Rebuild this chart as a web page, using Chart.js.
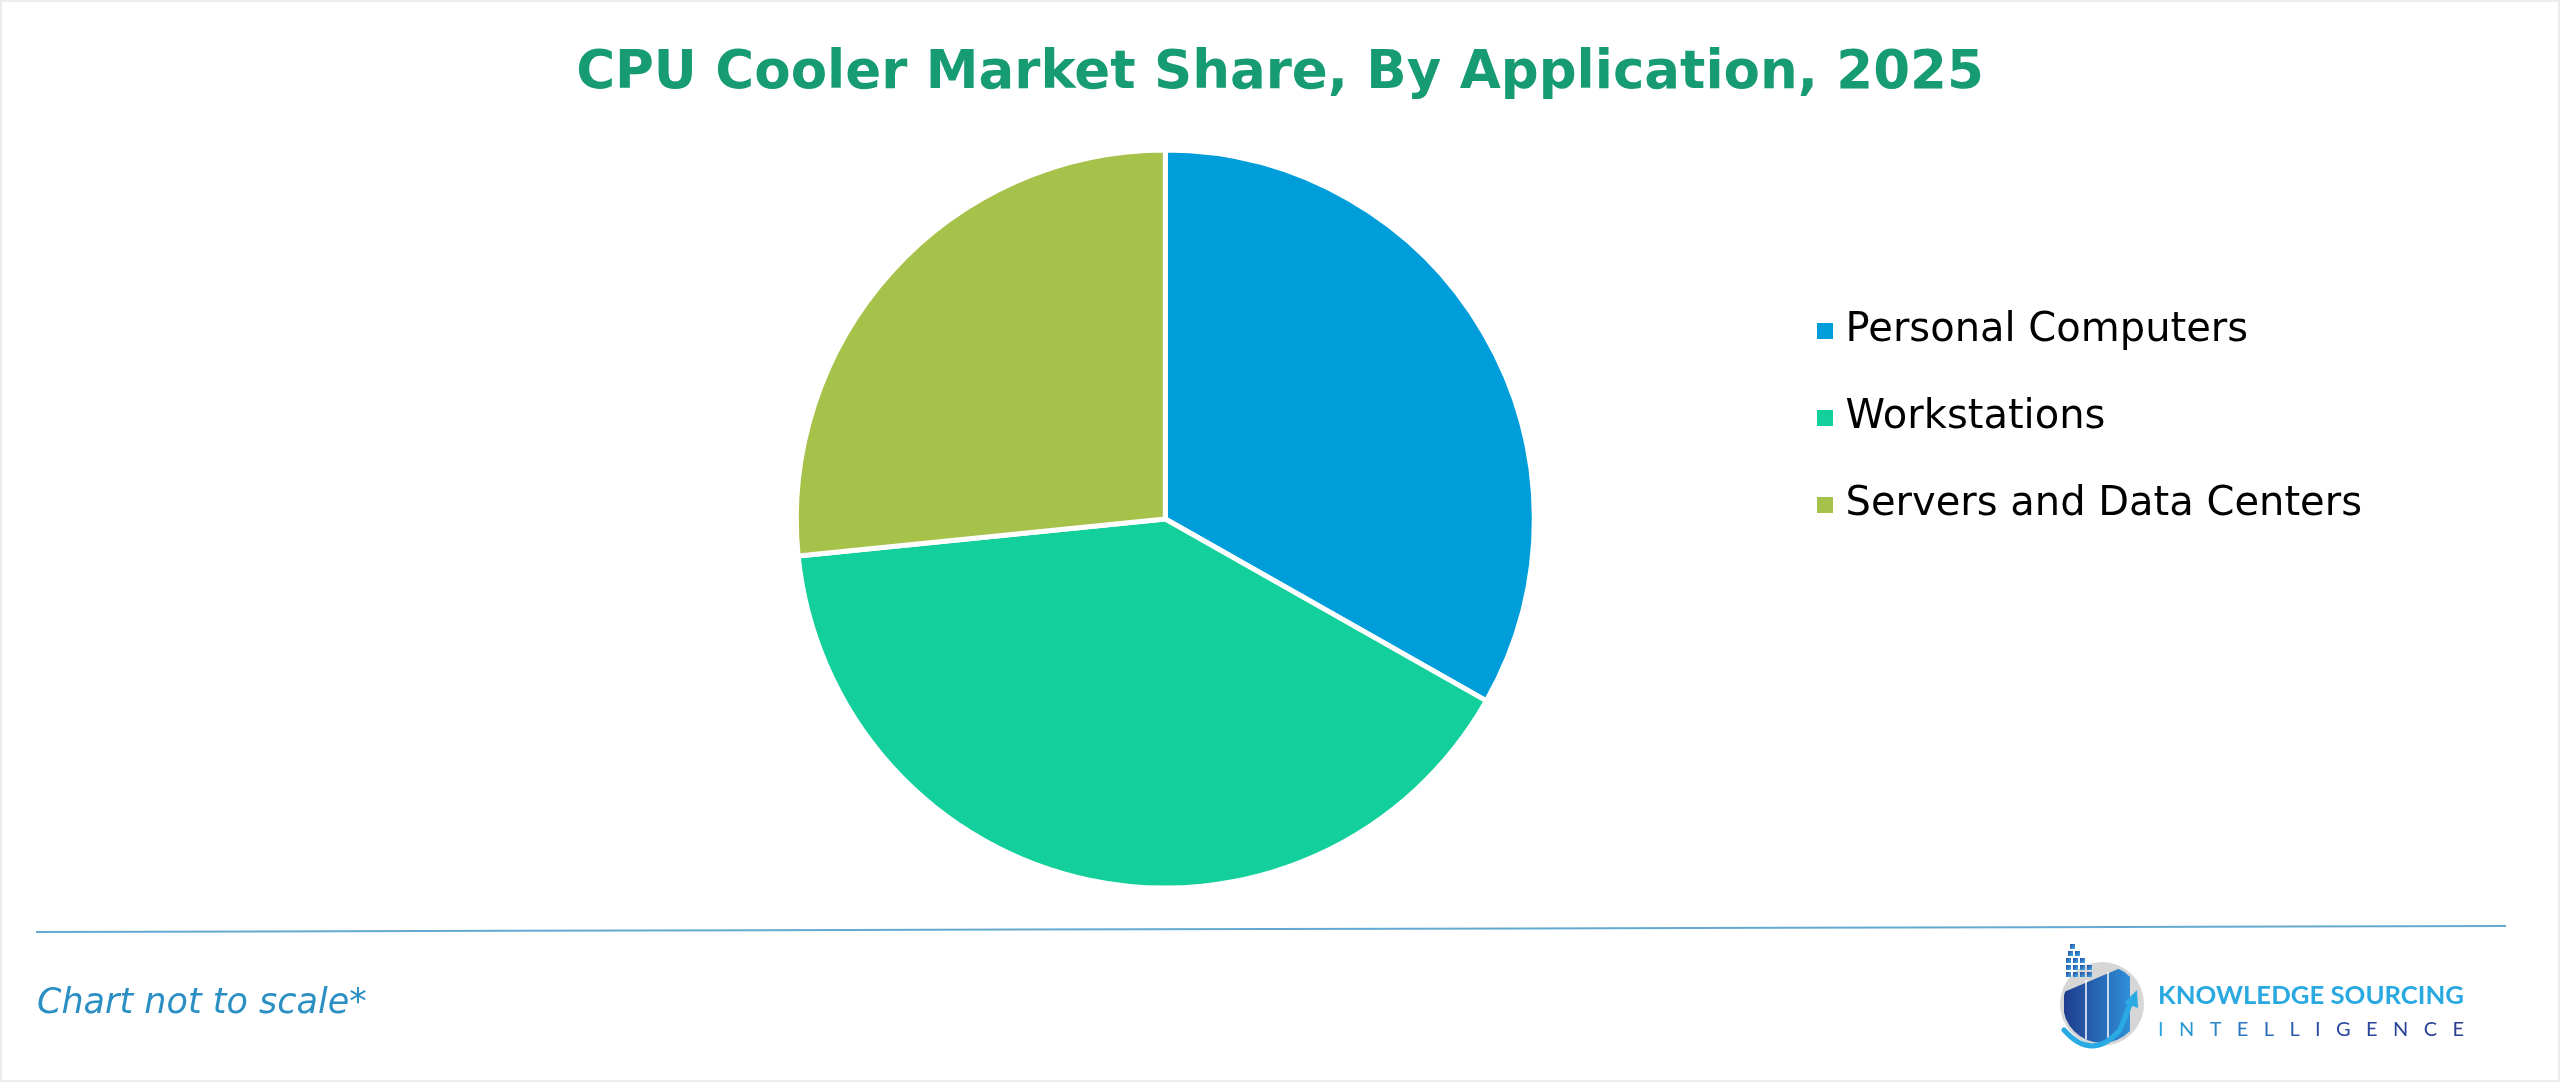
<!DOCTYPE html>
<html>
<head>
<meta charset="utf-8">
<script src="https://cdn.jsdelivr.net/npm/chart.js@4.4.1/dist/chart.umd.min.js"></script>
<style>
  html, body { margin: 0; padding: 0; background: #ffffff; }
  #page { position: relative; width: 2560px; height: 1082px; overflow: hidden; background: #ffffff; }
  #chartCanvas { position: absolute; left: 0; top: 0; }
  #overlay { position: absolute; left: 0; top: 0; pointer-events: none; }
  #frame { position: absolute; left: 0; top: 0; width: 2560px; height: 1082px; box-sizing: border-box; border: 2px solid #ececec; pointer-events: none; }
</style>
</head>
<body>
<div id="page">
  <canvas id="chartCanvas" width="2560" height="1082"></canvas>
  <svg id="overlay" width="2560" height="1082" xmlns="http://www.w3.org/2000/svg">
    <defs>
      <linearGradient id="barGrad" x1="0" y1="0" x2="1" y2="0">
        <stop offset="0" stop-color="#1f3d8e"/>
        <stop offset="1" stop-color="#2f8fd8"/>
      </linearGradient>
      <linearGradient id="cubeGrad" x1="0" y1="0" x2="1" y2="1">
        <stop offset="0" stop-color="#27479c"/>
        <stop offset="1" stop-color="#3fb0ea"/>
      </linearGradient>
      <linearGradient id="intelGrad" x1="0" y1="0" x2="1" y2="0">
        <stop offset="0" stop-color="#2aa6df"/>
        <stop offset="0.55" stop-color="#2b4aa0"/>
        <stop offset="1" stop-color="#2a3d8f"/>
      </linearGradient>
      <clipPath id="logoClip"><circle cx="2102" cy="1004" r="39"/></clipPath>
    </defs>
    <text id="chartTitle" x="1280" y="88" text-anchor="middle" font-family="'DejaVu Sans', Verdana, sans-serif" font-weight="bold" font-size="53" fill="#169B72">CPU Cooler Market Share, By Application, 2025</text>
    <line x1="36" y1="932" x2="2506" y2="926" stroke="#64aad0" stroke-width="2"/>
    <text x="37" y="1013" font-family="'DejaVu Sans', Verdana, sans-serif" font-style="italic" font-size="35" fill="#2B8FC4">Chart not to scale*</text>
    <!-- logo -->
    <circle cx="2102" cy="1004" r="42" fill="#d6d6d6"/>
    <g clip-path="url(#logoClip)">
      <polygon points="2064,992 2130,964 2130,1050 2064,1050" fill="url(#barGrad)"/>
      <line x1="2086" y1="980" x2="2086" y2="1050" stroke="#ffffff" stroke-width="1.5"/>
      <line x1="2108" y1="972" x2="2108" y2="1050" stroke="#ffffff" stroke-width="1.5"/>
    </g>
    <g fill="url(#cubeGrad)">
      <rect x="2070" y="944" width="5" height="5"/>
      <rect x="2068" y="951" width="5" height="5"/><rect x="2075" y="951" width="5" height="5"/>
      <rect x="2066" y="958" width="5" height="5"/><rect x="2073" y="958" width="5" height="5"/><rect x="2080" y="958" width="5" height="5"/>
      <rect x="2066" y="965" width="5" height="5"/><rect x="2073" y="965" width="5" height="5"/><rect x="2080" y="965" width="5" height="5"/><rect x="2087" y="965" width="5" height="5"/>
      <rect x="2066" y="972" width="5" height="5"/><rect x="2073" y="972" width="5" height="5"/><rect x="2080" y="972" width="5" height="5"/><rect x="2087" y="972" width="5" height="5"/>
    </g>
    <path d="M2064,1030 Q2092,1062 2120,1030 L2131,1002" fill="none" stroke="#2aaae2" stroke-width="5" stroke-linecap="round"/>
    <polygon points="2124,1003 2137,990 2138,1008" fill="#2aaae2"/>
    <text x="2158" y="1004" font-family="Lato, 'Open Sans', sans-serif" font-weight="bold" font-size="24" fill="#29A9E0" textLength="306" lengthAdjust="spacingAndGlyphs">KNOWLEDGE SOURCING</text>
    <text x="2158" y="1036" font-family="Lato, 'Open Sans', sans-serif" font-size="20" fill="url(#intelGrad)" textLength="306" lengthAdjust="spacing">INTELLIGENCE</text>
  </svg>
  <div id="frame"></div>
</div>
<script>
// ---- data ----
const categories = ['Personal Computers', 'Workstations', 'Servers and Data Centers'];
const shares = [33.2, 40.2, 26.6];
const sliceColors = ['#009DDB', '#12CF9B', '#A7C24A'];

// legend square markers
function makeSquare(color) {
  const c = document.createElement('canvas');
  c.width = 16; c.height = 16;
  const g = c.getContext('2d');
  g.fillStyle = color;
  g.fillRect(0, 0, 16, 16);
  return c;
}
const legendSquares = sliceColors.map(makeSquare);

const baseGenerate = Chart.DoughnutController.overrides.plugins.legend.labels.generateLabels;

new Chart(document.getElementById('chartCanvas'), {
  type: 'pie',
  data: {
    labels: categories,
    datasets: [{
      data: shares,
      backgroundColor: sliceColors,
      borderColor: '#ffffff',
      borderWidth: 5,
      radius: 369
    }]
  },
  options: {
    responsive: false,
    animation: false,
    devicePixelRatio: 1,
    layout: { padding: { left: 554, right: 188, top: 264, bottom: 308 } },
    plugins: {
      title: { display: false },
      tooltip: { enabled: false },
      legend: {
        display: true,
        position: 'right',
        align: 'start',
        labels: {
          usePointStyle: true,
          pointStyleWidth: 2,
          padding: 47,
          color: '#000000',
          font: { family: "'DejaVu Sans', Verdana, sans-serif", size: 40 },
          generateLabels(chart) {
            return baseGenerate(chart).map((item, i) => Object.assign(item, { pointStyle: legendSquares[i], lineWidth: 0 }));
          }
        }
      }
    }
  }
});
</script>
</body>
</html>
